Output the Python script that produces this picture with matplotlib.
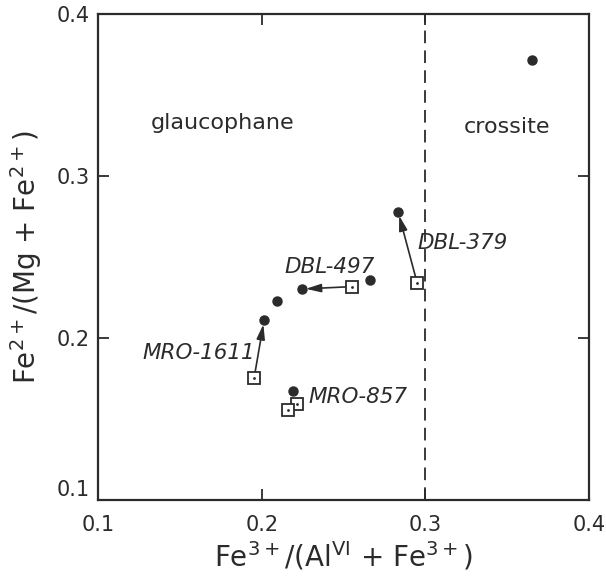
import matplotlib.pyplot as plt

# amphibole compositions: open squares = one analysis, filled dots = the other
sq_x = [0.1953, 0.2554, 0.2950, 0.2218, 0.2159]
sq_y = [0.1753, 0.2317, 0.2338, 0.1590, 0.1553]
dot_x = [0.2014, 0.2244, 0.2833, 0.2193, 0.2093, 0.2660, 0.3653]
dot_y = [0.2110, 0.2302, 0.2780, 0.1675, 0.2230, 0.2358, 0.3714]

# arrows go from square i to dot i
arrow_pairs = [(0, 0), (1, 1), (2, 2)]
sample_names = ["MRO-1611", "DBL-497", "DBL-379", "MRO-857"]
boundary_x = 0.3
ticks = [0.1, 0.2, 0.3, 0.4]
tick_labels = ["0.1", "0.2", "0.3", "0.4"]

ink = "#2b2b2b"
plt.rcParams['font.family'] = ['DejaVu Sans']
plt.rcParams['mathtext.default'] = 'regular'

fig = plt.figure(figsize=(6.06, 5.82), dpi=100)
ax = fig.add_axes([0.162, 0.141, 0.810, 0.835])

ax.axvline(boundary_x, color=ink, lw=1.3, ls=(0, (7, 4)))

ax.plot(dot_x, dot_y, 'o', color=ink, ms=6.5, zorder=4)
ax.plot(sq_x, sq_y, 's', mfc='white', mec=ink, mew=1.3, ms=9, zorder=4)
ax.plot(sq_x, sq_y, '.', color=ink, ms=2, zorder=5)

for i, j in arrow_pairs:
    ax.annotate("", xy=(dot_x[j], dot_y[j]), xytext=(sq_x[i], sq_y[i]),
                arrowprops=dict(arrowstyle='-|>,head_length=0.9,head_width=0.25',
                                color=ink, lw=1.2, shrinkA=5, shrinkB=3),
                zorder=3)

lab_kw = dict(fontsize=15.5, style='italic', color=ink, ha='center', va='center')
ax.text(0.1615, 0.191, sample_names[0], **lab_kw)
ax.text(0.2417, 0.2438, sample_names[1], **lab_kw)
ax.text(0.3225, 0.2585, sample_names[2], **lab_kw)
ax.text(0.2585, 0.1638, sample_names[3], **lab_kw)

ax.text(0.176, 0.333, "glaucophane", fontsize=16, color=ink, ha='center', va='center')
ax.text(0.350, 0.330, "crossite", fontsize=16, color=ink, ha='center', va='center')

ax.set_xlim(0.1, 0.4)
ax.set_ylim(0.1, 0.4)
ax.set_xticks(ticks)
ax.set_xticklabels(tick_labels)
ax.set_yticks(ticks)
ax.set_yticklabels(tick_labels)
ax.tick_params(direction='in', length=8, width=1.3, color=ink, labelcolor=ink,
               labelsize=15, top=True, right=True)
ax.tick_params(axis='x', pad=11)
ax.tick_params(axis='y', pad=6)
ax.get_yticklabels()[0].set_va('bottom')
for s in ax.spines.values():
    s.set_linewidth(1.6)
    s.set_color(ink)

ax.set_xlabel(r"Fe$^{3+}$/(Al$^{VI}$ + Fe$^{3+}$)", fontsize=20, color=ink, labelpad=3)
ax.set_ylabel(r"Fe$^{2+}$/(Mg + Fe$^{2+}$)", fontsize=20, color=ink, labelpad=9)

fig.savefig("out.png", dpi=100)
